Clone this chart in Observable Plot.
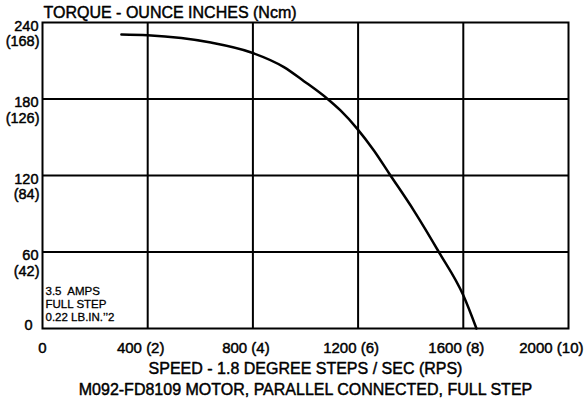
<!DOCTYPE html>
<html>
<head>
<meta charset="utf-8">
<script src="https://cdn.jsdelivr.net/npm/d3@7"></script>
<script src="https://cdn.jsdelivr.net/npm/@observablehq/plot@0.6"></script>
<style>
  html, body { margin: 0; padding: 0; background: #fff; }
  svg { display: block; }
</style>
</head>
<body>
<div id="chart"></div>
<script>
// Speed (full steps / sec) and torque (oz-in)
const speed  = [300, 400, 640, 791, 918, 994, 1083, 1133, 1197, 1260, 1320, 1412, 1507, 1600, 1650];
const torque = [230.6, 230, 224.3, 216.7, 205, 194, 180.2, 171, 156.6, 139.6, 121, 92.5, 60, 26, 0];

// Axis ticks and labels
const xTicks = [0, 400, 800, 1200, 1600, 2000];
const xTickLabels = ["0", "400 (2)", "800 (4)", "1200 (6)", "1600 (8)", "2000 (10)"];
const yTicks = [0, 60, 120, 180, 240];
const yTickLabels = ["0", "60", "120", "180", "240"];
const yTickLabelsNcm = ["", "(42)", "(84)", "(126)", "(168)"];

const title = "TORQUE - OUNCE INCHES (Ncm)";
const xLabel = "SPEED - 1.8 DEGREE STEPS / SEC (RPS)";
const caption = "M092-FD8109 MOTOR, PARALLEL CONNECTED, FULL STEP";
const note = "3.5  AMPS\nFULL STEP\n0.22 LB.IN.\u2019\u20192";

const curve = speed.map((s, i) => ({speed: s, torque: torque[i]}));
const xt = xTicks.map((v, i) => ({v, label: xTickLabels[i]}));
const yt = yTicks.map((v, i) => ({v, label: yTickLabels[i], ncm: yTickLabelsNcm[i]}));

const font = "Liberation Sans, Arial, Helvetica, sans-serif";
const heavy = {fill: "#000", stroke: "#000", strokeWidth: 0.45, lineAnchor: "middle"};

const chart = Plot.plot({
  width: 588,
  height: 406,
  marginLeft: 42,
  marginRight: 20,
  marginTop: 22,
  marginBottom: 78,
  style: {fontFamily: font, color: "#000", background: "#fff"},
  x: {domain: [0, 2000], axis: null},
  y: {domain: [0, 240], axis: null},
  marks: [
    Plot.gridX([400, 800, 1200, 1600], {stroke: "#000", strokeOpacity: 1, strokeWidth: 2}),
    Plot.gridY([60, 120, 180], {stroke: "#000", strokeOpacity: 1, strokeWidth: 2}),
    Plot.frame({stroke: "#000", strokeWidth: 2}),
    Plot.line(curve, {x: "speed", y: "torque", curve: "monotone-x", stroke: "#000", strokeWidth: 2.5}),
    // y tick labels
    Plot.text(yt.filter(d => d.v > 0), {...heavy, y: "v", text: "label", frameAnchor: "left", textAnchor: "end", dx: -4, dy: 3.5, fontSize: 14.5}),
    Plot.text(yt.filter(d => d.v > 0), {...heavy, y: "v", text: "ncm", frameAnchor: "left", textAnchor: "end", dx: -3, dy: 19, fontSize: 14.5}),
    Plot.text(yt.filter(d => d.v === 0), {...heavy, y: "v", text: "label", frameAnchor: "left", textAnchor: "end", dx: -10, dy: -3, fontSize: 14.5}),
    // x tick labels
    Plot.text(xt.filter(d => d.v === 0), {...heavy, x: "v", text: "label", frameAnchor: "bottom", dy: 20, fontSize: 15}),
    Plot.text(xt.filter(d => d.v > 0 && d.v < 2000), {...heavy, x: "v", text: "label", frameAnchor: "bottom", dx: -7, dy: 20, fontSize: 15}),
    Plot.text(xt.filter(d => d.v === 2000), {...heavy, x: "v", text: "label", frameAnchor: "bottom", textAnchor: "end", dx: 15, dy: 20, fontSize: 15}),
    // title, axis label, caption
    Plot.text([title], {...heavy, text: d => d, frameAnchor: "top-left", textAnchor: "start", dx: 1, dy: -10, fontSize: 16}),
    Plot.text([xLabel], {...heavy, text: d => d, frameAnchor: "bottom", dy: 40, fontSize: 16}),
    Plot.text([caption], {...heavy, text: d => d, frameAnchor: "bottom", dy: 61, fontSize: 16}),
    // note
    Plot.text([note], {...heavy, strokeWidth: 0.3, text: d => d, frameAnchor: "bottom-left", textAnchor: "start", dx: 3, dy: -25, fontSize: 11.5, lineHeight: 1.15})
  ]
});
document.getElementById("chart").appendChild(chart);
</script>
</body>
</html>
